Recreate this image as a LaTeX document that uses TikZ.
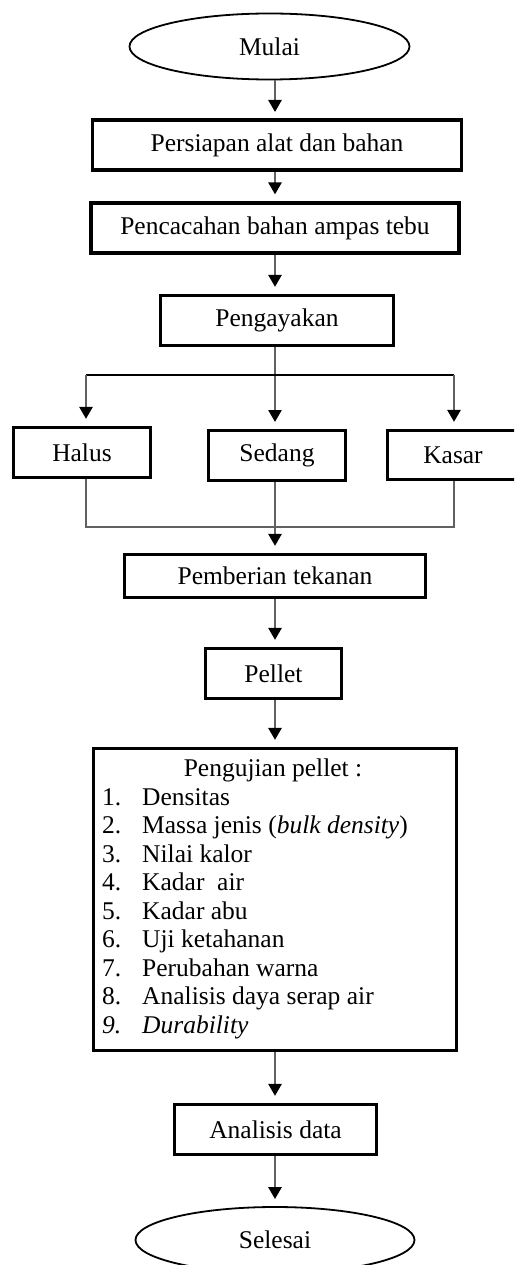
\documentclass[tikz,border=0pt]{standalone}
\usepackage{fontspec}
\setmainfont{Liberation Serif}
\usetikzlibrary{arrows.meta,shapes.geometric}
\begin{document}
\begin{tikzpicture}[x=1pt,y=-1pt,
  font=\fontsize{25.5}{28.5}\selectfont,
  procbox/.style={draw=black, line width=3.2pt, rectangle, inner sep=0pt},
  term/.style={draw=black, ellipse, line width=1.8pt, inner sep=0pt, minimum width=280pt, minimum height=66pt},
  conn/.style={line width=2.6pt, draw=black!62},
  thinconn/.style={line width=1.5pt, draw=black},
  arr/.style={conn, -{Triangle[width=13pt,length=12pt,color=black]}, shorten >=7pt},
  txt/.style={inner sep=0pt, anchor=base west}
]
\useasboundingbox (0,0) rectangle (514,1265);
\clip (0,0) rectangle (514,1265);

\node[term] (mulai) at (269.5,46.5) {Mulai};
\node[procbox, minimum width=369pt, minimum height=50pt] (persiapan) at (277,145) {Persiapan alat dan bahan};
\node[procbox, minimum width=368pt, minimum height=50pt] (pencacahan) at (275,228) {Pencacahan bahan ampas tebu};
\node[procbox, minimum width=233pt, minimum height=50pt] (ayak) at (277,320.5) {Pengayakan};
\node[procbox, minimum width=137pt, minimum height=50pt] (halus) at (82,452.5) {Halus};
\node[procbox, minimum width=137pt, minimum height=50pt] (sedang) at (277,455.5) {Sedang};
\node[procbox, minimum width=131pt, minimum height=49pt] (kasar) at (453,455) {Kasar};
\node[procbox, minimum width=301pt, minimum height=43pt] (tekan) at (275,576) {Pemberian tekanan};
\node[procbox, minimum width=136pt, minimum height=50pt] (pellet) at (273.5,673.5) {Pellet};
\node[procbox, minimum width=363pt, minimum height=302pt] (uji) at (275,899.5) {};
\node[procbox, minimum width=202pt, minimum height=50pt] (analisis) at (275.5,1129.5) {Analisis data};
\node[term, minimum width=279pt] (selesai) at (275,1240) {Selesai};

% text inside the test box
\node[inner sep=0pt, anchor=base] (head) at (273,776) {Pengujian pellet :};
\node[txt] (n1) at (102,805) {1.};   \node[txt] (t1) at (142,805) {Densitas};
\node[txt] (n2) at (102,833.5) {2.}; \node[txt] (t2) at (142,833.5) {Massa jenis (\textit{bulk density})};
\node[txt] (n3) at (102,862) {3.};   \node[txt] (t3) at (142,862) {Nilai kalor};
\node[txt] (n4) at (102,890.5) {4.}; \node[txt] (t4) at (142,890.5) {Kadar\ \ air};
\node[txt] (n5) at (102,919) {5.};   \node[txt] (t5) at (142,919) {Kadar abu};
\node[txt] (n6) at (102,947.5) {6.}; \node[txt] (t6) at (142,947.5) {Uji ketahanan};
\node[txt] (n7) at (102,976) {7.};   \node[txt] (t7) at (142,976) {Perubahan warna};
\node[txt] (n8) at (102,1004.5) {8.};\node[txt] (t8) at (142,1004.5) {Analisis daya serap air};
\node[txt] (n9) at (102,1033) {\textit{9.}}; \node[txt] (t9) at (142,1033) {\textit{Durability}};

% branch coordinates
\coordinate (hs) at (86,375);
\coordinate (ks) at (454,375);
\coordinate (hm) at (86,527);
\coordinate (mm) at (275,527);
\coordinate (km) at (454,527);

% connectors
\draw[arr] (mulai.south -| 275,0) -- (275,119);
\draw[arr] (persiapan.south -| 275,0) -- (pencacahan.north);
\draw[arr] (pencacahan.south) -- (pencacahan.south |- ayak.north);
\draw[arr] (ayak.south -| 275,0) -- (275,429);
\draw[thinconn] (hs) -- (ks);
\draw[arr] (hs) -- (hs |- halus.north);
\draw[arr] (ks) -- (ks |- kasar.north);
\draw[conn] (hs |- halus.south) -- (hm) -- (km) -- (ks |- kasar.south);
\draw[conn] (275,482) -- (mm);
\draw[arr] (mm) -- (tekan.north);
\draw[arr] (tekan.south) -- (tekan.south |- pellet.north);
\draw[arr] (pellet.south -| 275,0) -- (uji.north);
\draw[arr] (uji.south) -- (uji.south |- analisis.north);
\draw[arr] (analisis.south -| 275,0) -- (selesai.north);
\end{tikzpicture}
\end{document}
